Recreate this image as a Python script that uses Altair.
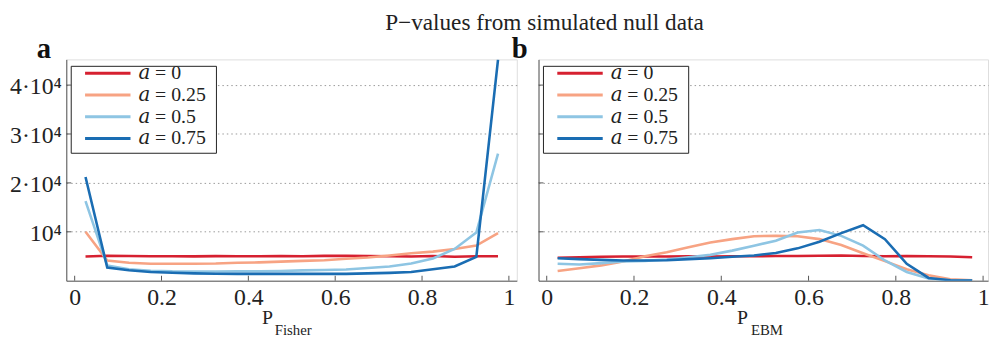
import altair as alt
import pandas as pd

FONT = "Liberation Serif, Times New Roman, Times, DejaVu Serif, serif"

# ---- data ----
p_centers = [0.025, 0.075, 0.125, 0.175, 0.225, 0.275, 0.325, 0.375, 0.425, 0.475,
             0.525, 0.575, 0.625, 0.675, 0.725, 0.775, 0.825, 0.875, 0.925, 0.975]

series_names = ["𝑎\u2005=\u20050", "𝑎\u2005=\u20050.25", "𝑎\u2005=\u20050.5", "𝑎\u2005=\u20050.75"]
series_colors = ["#d62030", "#f7a383", "#8ec5e3", "#1a6db3"]

fisher_a0 = [4950, 5100, 5050, 5000, 5000, 4980, 5020, 5000, 4990, 5050,
             5010, 5080, 5120, 5050, 5000, 4950, 5050, 4900, 5000, 5000]
fisher_a025 = [10000, 4140, 3660, 3460, 3460, 3460, 3500, 3660, 3750, 3900,
               4050, 4200, 4470, 4750, 5150, 5610, 5950, 6490, 7170, 9720]
fisher_a05 = [16260, 3130, 2320, 2050, 1920, 1900, 1900, 1920, 1950, 2000,
              2110, 2200, 2300, 2590, 2900, 3520, 4530, 6490, 9860, 26000]
fisher_a075 = [21200, 2700, 2120, 1780, 1640, 1500, 1430, 1400, 1400, 1390,
               1390, 1390, 1390, 1500, 1600, 1780, 2330, 2900, 4850, 45200]

ebm_a0 = [4700, 4800, 4900, 4950, 4950, 4950, 5000, 4950, 5000, 5000,
          5050, 5050, 5100, 5150, 5050, 5000, 5050, 5000, 4950, 4800]
ebm_a025 = [1980, 2530, 3130, 3920, 5000, 5820, 6830, 7830, 8500, 9100,
            9170, 9100, 8500, 7290, 5610, 4000, 2330, 1120, 300, 100]
ebm_a05 = [3460, 3320, 3590, 3920, 4060, 4330, 4800, 5280, 6150, 7170,
           8180, 9860, 10380, 9170, 7170, 4140, 1780, 440, 100, 50]
ebm_a075 = [4600, 4410, 4260, 4140, 4140, 4200, 4410, 4600, 4880, 5150,
            5680, 6610, 7960, 9720, 11340, 8500, 3460, 570, 100, 50]

xtick_values = [0, 0.2, 0.4, 0.6, 0.8, 1]
xtick_labels = ["0", "0.2", "0.4", "0.6", "0.8", "1"]
ytick_values = [10000, 20000, 30000, 40000]
ytick_labels = ["10⁴", "2·10⁴", "3·10⁴", "4·10⁴"]

main_title = "P\u2212values from simulated null data"
panel_letters = ["a", "b"]
axis_subscripts = ["Fisher", "EBM"]


def long_table(cols):
    rows = []
    for name, vals in zip(series_names, cols):
        for p, c in zip(p_centers, vals):
            rows.append({"p": p, "count": c, "series": name})
    return pd.DataFrame(rows)


df_fisher = long_table([fisher_a0, fisher_a025, fisher_a05, fisher_a075])
df_ebm = long_table([ebm_a0, ebm_a025, ebm_a05, ebm_a075])

H = 224
Y_DOMAIN = [0, 45250]


def ylabel_expr():
    expr = "''"
    for v, lab in reversed(list(zip(ytick_values, ytick_labels))):
        expr = f"datum.value == {v} ? '{lab}' : ({expr})"
    return expr


def xlabel_expr():
    expr = "''"
    for v, lab in reversed(list(zip(xtick_values, xtick_labels))):
        expr = f"abs(datum.value - {v}) < 1e-6 ? '{lab}' : ({expr})"
    return expr


def one_row():
    return alt.Data(values=[{"k": 0}])


def panel(df, width, xdomain, letter, sub, letter_dx, p_x, sub_x, first):
    xscale = alt.Scale(domain=xdomain, nice=False, zero=False)
    yscale = alt.Scale(domain=Y_DOMAIN, nice=False, zero=False)

    xaxis = alt.Axis(values=xtick_values, labelExpr=xlabel_expr(), ticks=False, grid=False,
                     title=None, labelFont=FONT, labelFontSize=24, labelColor="#222",
                     labelPadding=5, domainColor="#555", domainWidth=1, labelFlush=False)
    yaxis = alt.Axis(values=ytick_values, labelExpr=ylabel_expr(), labels=first,
                     ticks=False, grid=True, gridDash=[1.5, 3], gridColor="#999",
                     gridWidth=1, title=None, labelFont=FONT, labelFontSize=24,
                     labelColor="#222", labelPadding=5, labelOffset=2,
                     domainColor="#555", domainWidth=1)

    legend = alt.Legend(orient="none", legendX=5, legendY=3, title=None,
                        symbolType="M-3,0H3", symbolSize=235, symbolStrokeWidth=3,
                        symbolOffset=26, labelOffset=21, labelFont=FONT, labelFontSize=20,
                        labelColor="#222", rowPadding=2, padding=1)

    lines = alt.Chart(df).mark_line(strokeWidth=2.6, clip=True).encode(
        x=alt.X("p:Q", scale=xscale, axis=xaxis),
        y=alt.Y("count:Q", scale=yscale, axis=yaxis),
        color=alt.Color("series:N", scale=alt.Scale(domain=series_names, range=series_colors),
                        sort=series_names, legend=legend),
    )

    # legend frame (white box with a thin black border)
    frame = alt.Chart(one_row()).mark_rect(fill="white", stroke="#222", strokeWidth=1).encode(
        x=alt.value(5), x2=alt.value(152), y=alt.value(7), y2=alt.value(95))

    yt = alt.Chart(pd.DataFrame({"count": ytick_values})).mark_rule(color="#555").encode(
        y=alt.Y("count:Q", scale=yscale), x=alt.value(0), x2=alt.value(5))
    xt = alt.Chart(pd.DataFrame({"p": xtick_values})).mark_rule(color="#555").encode(
        x=alt.X("p:Q", scale=xscale), y=alt.value(H), y2=alt.value(H - 5))

    letter_mark = alt.Chart(one_row()).mark_text(
        text=letter, font=FONT, fontSize=29, fontWeight="bold", align="left",
        baseline="alphabetic", color="#111").encode(x=alt.value(letter_dx), y=alt.value(-1))
    p_mark = alt.Chart(one_row()).mark_text(
        text="P", font=FONT, fontSize=20, align="left", baseline="alphabetic",
        color="#222").encode(x=alt.value(p_x), y=alt.value(268))
    sub_mark = alt.Chart(one_row()).mark_text(
        text=sub, font=FONT, fontSize=15, align="left", baseline="alphabetic",
        color="#222").encode(x=alt.value(sub_x), y=alt.value(279))

    layers = [lines, frame, yt, xt, letter_mark, p_mark, sub_mark]
    if first:
        layers.append(alt.Chart(one_row()).mark_text(
            text=main_title, font=FONT, fontSize=23.5, align="center", baseline="alphabetic",
            color="#222").encode(x=alt.value(484), y=alt.value(-30)))
        # invisible anchor fixing the top-left corner of the layout
        layers.append(alt.Chart(one_row()).mark_rule(opacity=0, strokeWidth=1).encode(
            x=alt.value(-58.5), y=alt.value(-46.5), y2=alt.value(-46)))
    return alt.layer(*layers).properties(width=width, height=H)


pa = panel(df_fisher, 456, [-0.0193, 1.0182], panel_letters[0], axis_subscripts[0],
           -30, 198, 211, True)
pb = panel(df_ebm, 455, [-0.0188, 1.0113], panel_letters[1], axis_subscripts[1],
           -27, 201, 215, False)

chart = alt.hconcat(pa, pb, spacing=22, bounds="flush").resolve_legend(
    color="independent"
).properties(
    padding={"left": 0, "top": 0, "right": 0, "bottom": 0}
).configure_view(stroke=None).configure(background="white")

chart.save("out.html", embed_options={"renderer": "svg", "actions": False})
